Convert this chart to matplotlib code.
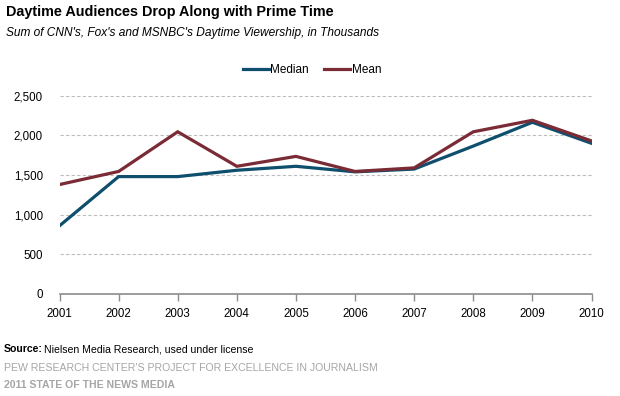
import matplotlib
matplotlib.use("Agg")
import matplotlib.pyplot as plt
from matplotlib.ticker import FuncFormatter

years = [2001, 2002, 2003, 2004, 2005, 2006, 2007, 2008, 2009, 2010]
median = [860, 1480, 1480, 1560, 1610, 1540, 1575, 1865, 2165, 1900]
mean = [1380, 1545, 2045, 1610, 1735, 1545, 1590, 2045, 2190, 1930]
yticks = [0, 500, 1000, 1500, 2000, 2500]

plt.rcParams['font.family'] = ['Liberation Sans', 'DejaVu Sans']

fig = plt.figure(figsize=(6.2, 3.96), dpi=100)
ax = fig.add_axes([59.5 / 620, 1 - 294 / 396, (591.5 - 59.5) / 620, (294 - 95.7) / 396])

ax.plot(years, median, color='#0e4f6d', lw=2.3, label='Median', solid_joinstyle='miter')
ax.plot(years, mean, color='#7a2b35', lw=2.3, label='Mean', solid_joinstyle='miter')

ax.set_xlim(2001, 2010)
ax.set_ylim(0, 2500)
ax.set_xticks(years)
ax.set_yticks(yticks)
ax.yaxis.set_major_formatter(FuncFormatter(lambda v, p: f"{int(v):,}"))
ax.grid(axis='y', color='#bdbdbd', ls=(0, (3, 2)), lw=0.8)
ax.set_axisbelow(True)
for s in ['top', 'right', 'left']:
    ax.spines[s].set_visible(False)
ax.spines['bottom'].set_color('#8c8c8c')
ax.spines['bottom'].set_linewidth(1.2)
ax.tick_params(axis='x', colors='#8c8c8c', length=5, width=1, labelcolor='black', labelsize=8.3, pad=5)
ax.tick_params(axis='y', length=0, labelsize=8.3, pad=12)

leg = ax.legend(loc='center', bbox_to_anchor=(0.475, 1.13), ncol=2, frameon=False,
                fontsize=8.5, handlelength=2.2, handletextpad=0.1, columnspacing=1.3)

fig.text(6 / 620, 1 - 12 / 396, 'Daytime Audiences Drop Along with Prime Time',
         fontsize=10.4, fontweight='bold', va='center')
fig.text(6 / 620, 1 - 33 / 396, "Sum of CNN's, Fox's and MSNBC's Daytime Viewership, in Thousands",
         fontsize=8.6, style='italic', va='center')

fig.text(4 / 620, 1 - 349 / 396, 'Source:', fontsize=7.6, fontweight='bold', va='center')
fig.text(44 / 620, 1 - 349 / 396, 'Nielsen Media Research, used under license', fontsize=7.6, va='center')
fig.text(4 / 620, 1 - 368 / 396, "PEW RESEARCH CENTER'S PROJECT FOR EXCELLENCE IN JOURNALISM",
         fontsize=7.6, color='#a6a6a6', va='center')
fig.text(4 / 620, 1 - 385 / 396, '2011 STATE OF THE NEWS MEDIA', fontsize=7.6,
         color='#a6a6a6', fontweight='bold', va='center')

fig.savefig('out.png', dpi=100)
